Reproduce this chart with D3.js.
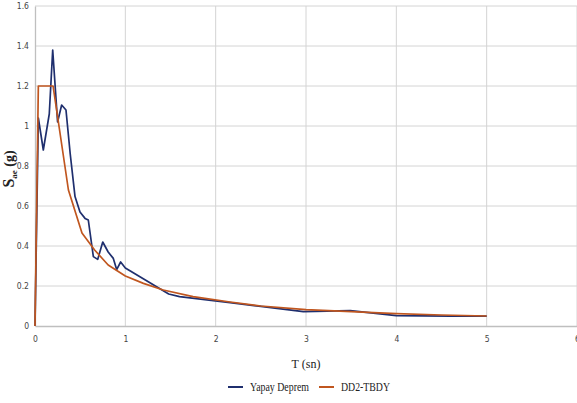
<!DOCTYPE html>
<html>
<head>
<meta charset="utf-8">
<script src="https://cdn.jsdelivr.net/npm/d3@7"></script>
<style>
  body { margin: 0; background: #fff; }
  svg { display: block; }
  .tick text { font-family: "Liberation Sans Narrow", "DejaVu Sans Condensed", sans-serif; font-size: 8.5px; fill: #444; }
</style>
</head>
<body>
<svg id="chart" width="577" height="403"></svg>
<script>
// spectrum values: [T (sn), Sae (g)]
const yapayDeprem = [
  [0, 0], [0.037, 1.04], [0.092, 0.88], [0.158, 1.06], [0.196, 1.38],
  [0.25, 1.02], [0.295, 1.105], [0.343, 1.08], [0.39, 0.86], [0.443, 0.647],
  [0.498, 0.57], [0.554, 0.538], [0.59, 0.53], [0.646, 0.347], [0.694, 0.333],
  [0.75, 0.42], [0.81, 0.37], [0.867, 0.338], [0.904, 0.282], [0.948, 0.32],
  [1.0, 0.29], [1.48, 0.16], [1.6, 0.147], [2.16, 0.117], [2.5, 0.098],
  [2.97, 0.072], [3.49, 0.077], [4.0, 0.052], [4.6, 0.049], [5.0, 0.049]
];
const dd2Tbdy = [
  [0, 0], [0.037, 1.2], [0.2, 1.2], [0.37, 0.68], [0.52, 0.465],
  [0.66, 0.38], [0.81, 0.305], [1.0, 0.25], [1.2, 0.213], [1.42, 0.18],
  [1.75, 0.147], [2.16, 0.12], [2.5, 0.1], [3.0, 0.082], [3.5, 0.072],
  [4.0, 0.062], [4.5, 0.055], [5.0, 0.05]
];
const xTicks = [0, 1, 2, 3, 4, 5, 6];
const yTicks = [0, 0.2, 0.4, 0.6, 0.8, 1, 1.2, 1.4, 1.6];
const seriesNames = ["Yapay Deprem", "DD2-TBDY"];
const seriesColors = ["#1f2f6e", "#c0561f"];

const svg = d3.select("#chart");
const margin = {top: 6, right: 0, bottom: 77, left: 35};
const width = 577, height = 403;

const x = d3.scaleLinear().domain([0, 6]).range([margin.left, width - margin.right]);
const y = d3.scaleLinear().domain([0, 1.6]).range([height - margin.bottom, margin.top]);

// gridlines
svg.append("g")
  .selectAll("line.h")
  .data(yTicks.filter(d => d > 0))
  .enter().append("line")
  .attr("x1", x(0)).attr("x2", x(6))
  .attr("y1", d => y(d)).attr("y2", d => y(d))
  .attr("stroke", "#d4d4d4").attr("stroke-width", 1);

svg.append("g")
  .selectAll("line.v")
  .data(xTicks.filter(d => d > 0))
  .enter().append("line")
  .attr("x1", d => x(d)).attr("x2", d => x(d))
  .attr("y1", y(0)).attr("y2", y(1.6))
  .attr("stroke", "#d4d4d4").attr("stroke-width", 1);

// axes
const xAxis = svg.append("g")
  .attr("transform", `translate(0,${y(0)})`)
  .call(d3.axisBottom(x).tickValues(xTicks).tickSize(0).tickPadding(10).tickFormat(d3.format("d")));
xAxis.select(".domain").attr("stroke", "#bfbfbf").attr("stroke-width", 1.3);

const yAxis = svg.append("g")
  .attr("transform", `translate(${x(0)},0)`)
  .call(d3.axisLeft(y).tickValues(yTicks).tickSize(0).tickPadding(6).tickFormat(d => d === 0 ? "0" : d3.format("~g")(d)));
yAxis.select(".domain").attr("stroke", "#bfbfbf").attr("stroke-width", 1.3);

// lines
const line = d3.line().x(d => x(d[0])).y(d => y(d[1]));
[yapayDeprem, dd2Tbdy].forEach((data, i) => {
  svg.append("path")
    .datum(data)
    .attr("fill", "none")
    .attr("stroke", seriesColors[i])
    .attr("stroke-width", 1.7)
    .attr("stroke-linejoin", "round")
    .attr("d", line);
});

// axis titles
const yTitle = svg.append("text")
  .attr("transform", "translate(14,169) rotate(-90)")
  .attr("text-anchor", "middle")
  .attr("font-family", "Liberation Serif, serif")
  .attr("fill", "#222");
yTitle.append("tspan").attr("font-size", "16px").attr("font-weight", "bold").text("S");
yTitle.append("tspan").attr("font-size", "9px").attr("font-weight", "bold").attr("dy", 3).text("ae");
yTitle.append("tspan").attr("font-size", "14px").attr("font-weight", "bold").attr("dy", -3).text(" (g)");

svg.append("text")
  .attr("x", 306).attr("y", 368)
  .attr("text-anchor", "middle")
  .attr("font-family", "Liberation Serif, serif")
  .attr("font-size", "12px")
  .attr("fill", "#222")
  .text("T (sn)");

// legend
const legendItems = [
  {name: seriesNames[0], color: seriesColors[0], x: 228, w: 59},
  {name: seriesNames[1], color: seriesColors[1], x: 319, w: 49}
];
const legend = svg.append("g");
legendItems.forEach(it => {
  legend.append("line")
    .attr("x1", it.x).attr("x2", it.x + 15)
    .attr("y1", 387).attr("y2", 387)
    .attr("stroke", it.color).attr("stroke-width", 2);
  legend.append("text")
    .attr("x", it.x + 22).attr("y", 391)
    .attr("font-family", "Liberation Serif, serif")
    .attr("font-size", "12px")
    .attr("textLength", it.w)
    .attr("lengthAdjust", "spacingAndGlyphs")
    .attr("fill", "#222")
    .text(it.name);
});
</script>
</body>
</html>
